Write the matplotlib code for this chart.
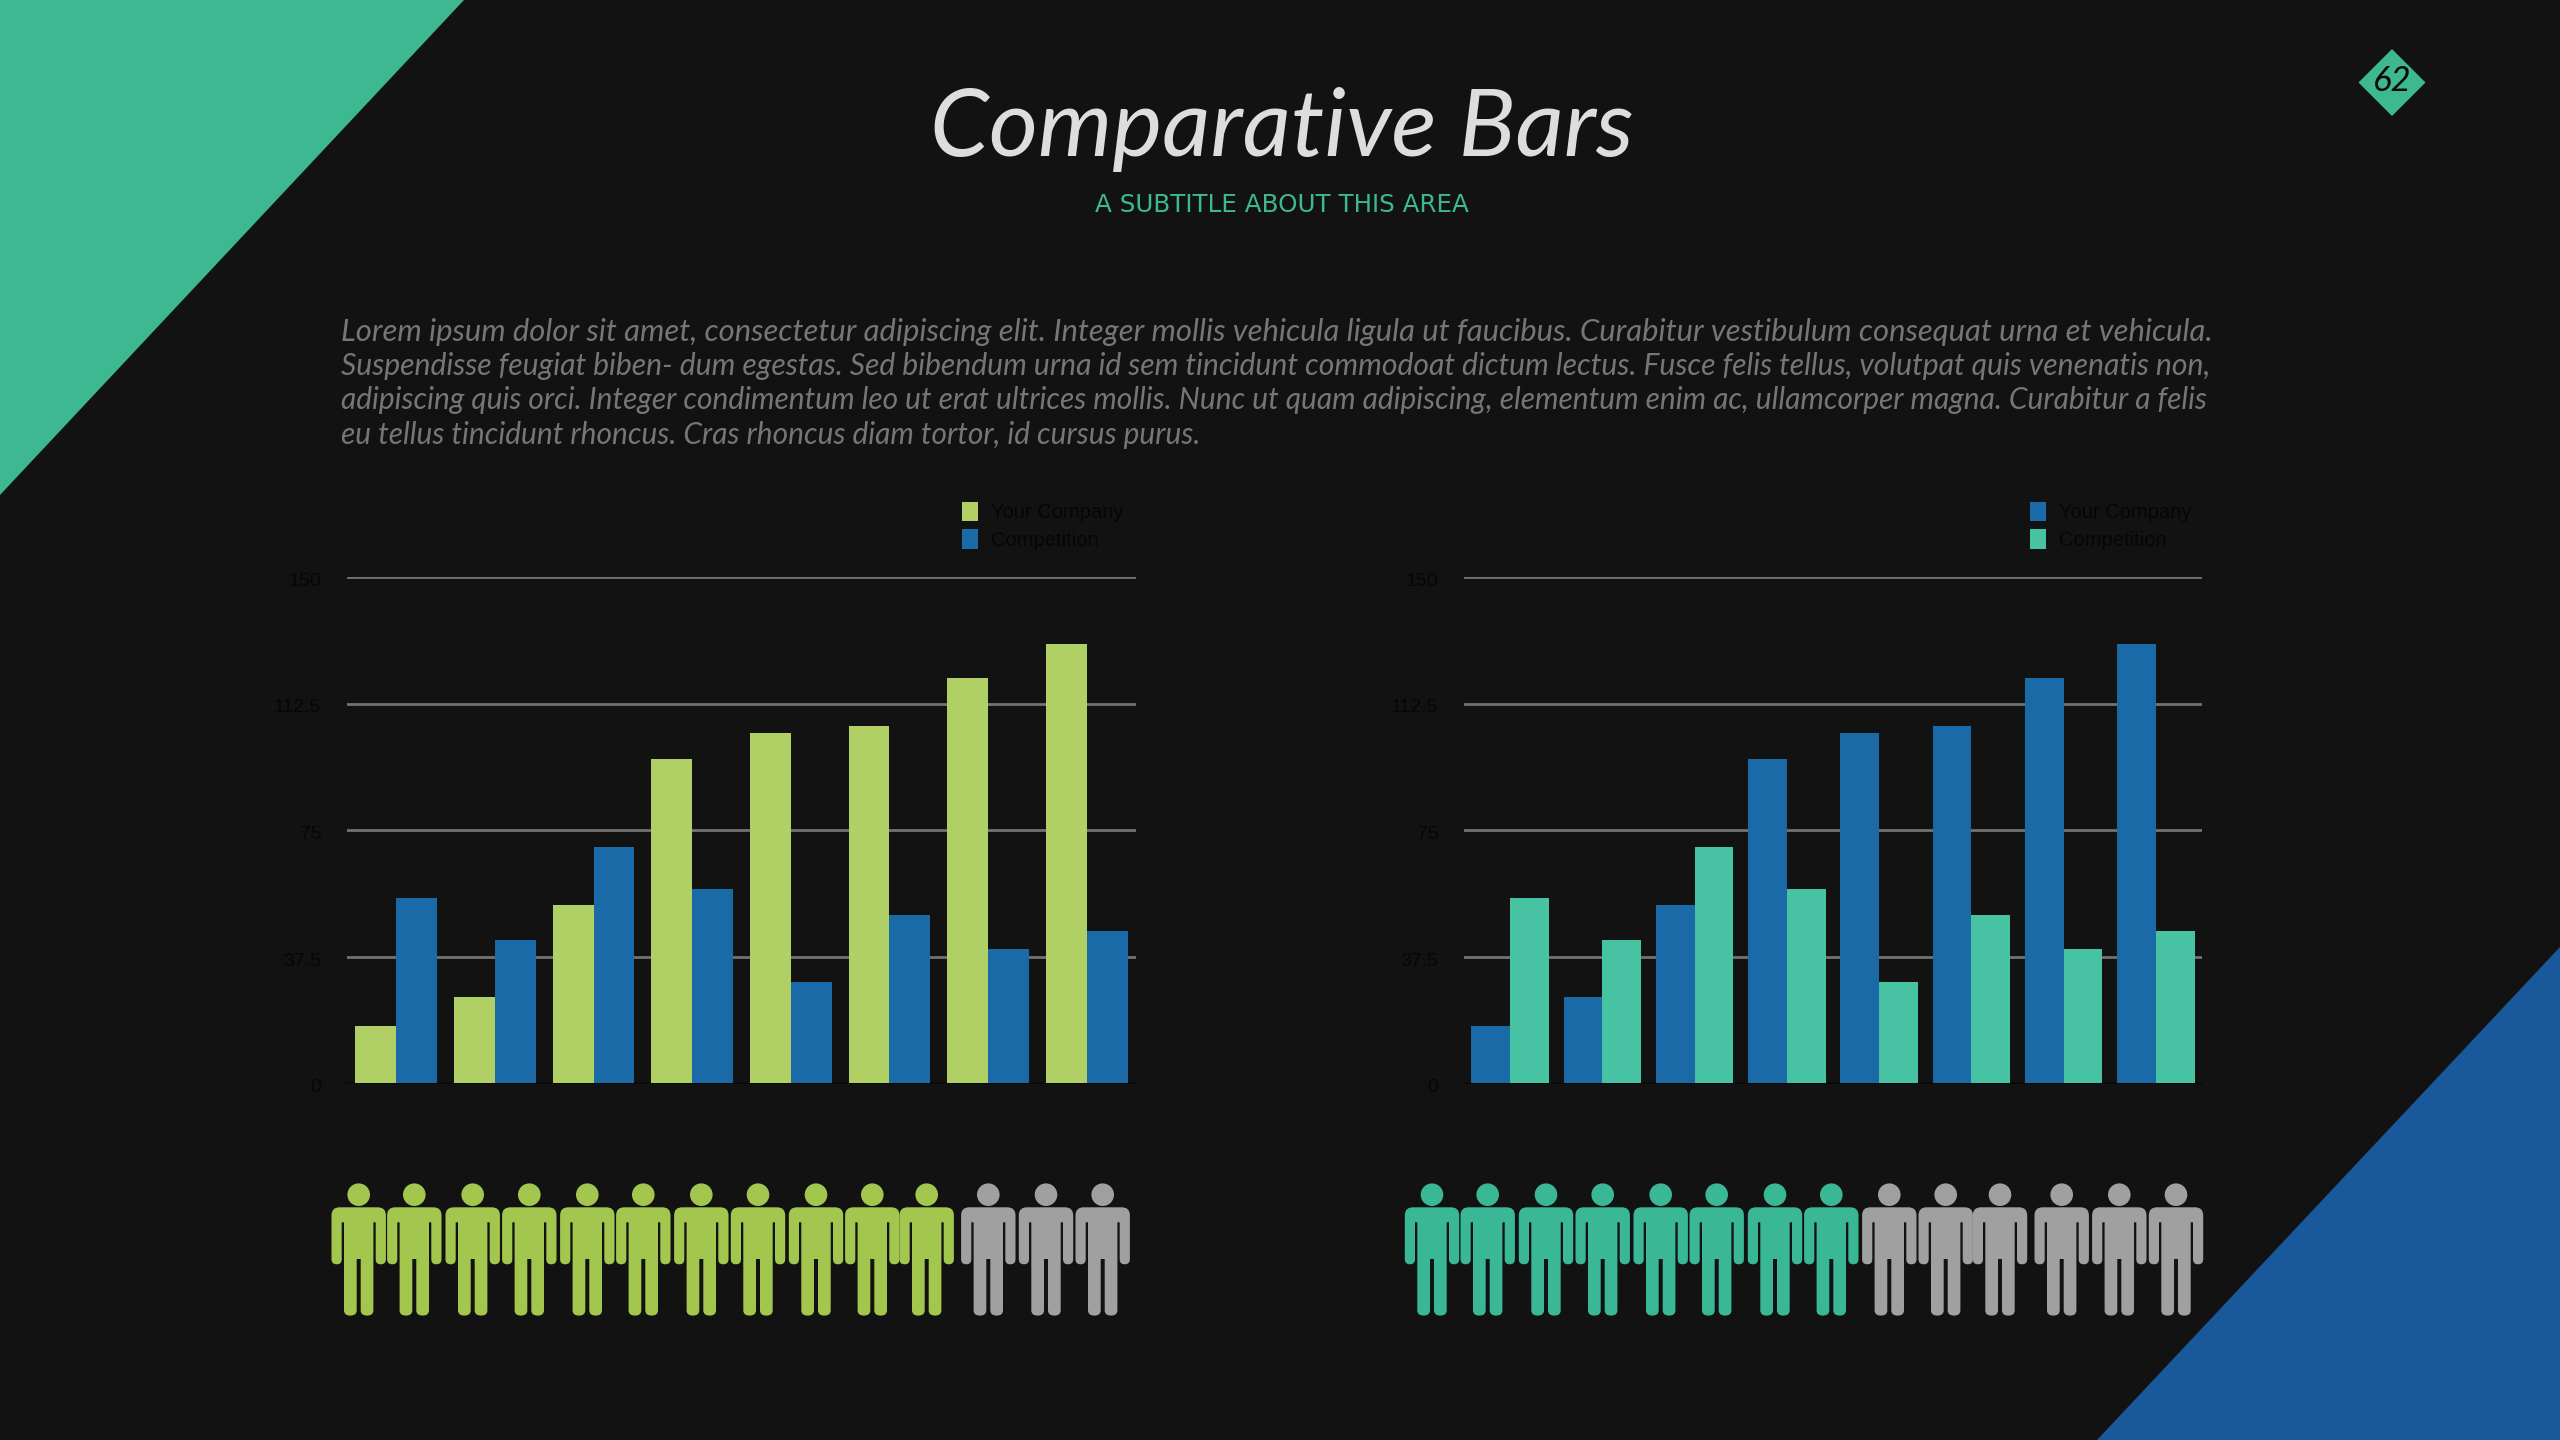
import numpy as np
import matplotlib
matplotlib.use('Agg')
import matplotlib.pyplot as plt
from matplotlib.patches import Circle, Polygon, PathPatch
from matplotlib.path import Path
from matplotlib.transforms import ScaledTranslation

W, H = 2560, 1440
BG = '#121212'

months = np.arange(8)
your_company = [16.8, 25.5, 52.9, 96, 103.9, 105.8, 120, 130]
competition = [54.8, 42.5, 69.9, 57.6, 30, 49.7, 39.8, 45]
y_ticks = [0, 37.5, 75, 112.5, 150]
y_labels = ['0', '37.5', '75', '112.5', '150']
series_names = ['Your Company', 'Competition']

people_total = 14
people_left = 11
people_right = 8

title = 'Comparative Bars'
subtitle = 'A SUBTITLE ABOUT THIS AREA'
body_lines = [
    'Lorem ipsum dolor sit amet, consectetur adipiscing elit. Integer mollis vehicula ligula ut faucibus. Curabitur vestibulum consequat urna et vehicula.',
    'Suspendisse feugiat biben- dum egestas. Sed bibendum urna id sem tincidunt commodoat dictum lectus. Fusce felis tellus, volutpat quis venenatis non,',
    'adipiscing quis orci. Integer condimentum leo ut erat ultrices mollis. Nunc ut quam adipiscing, elementum enim ac, ullamcorper magna. Curabitur a felis',
    'eu tellus tincidunt rhoncus. Cras rhoncus diam tortor, id cursus purus.',
]
body_ends = [2211, 2212, 2205, 1199]
body_y = [332, 366, 400, 435]

LIME = '#b0cf65'
BLUE = '#1b6aa8'
TEAL = '#47c2a3'

# the icons are not evenly spaced in the original, small nudges per slot
nudge_left = [0, -1.4, 0, -0.4, 0.6, -0.4, 0.6, 0.3, 1.3, 0.6, -2, 2.6, 3.3, 3]
nudge_right = [0, -1.3, 0, -0.3, 0.7, -0.3, 1, 0.3, 1.3, 0.7, -2, 2.7, 3.3, 3]

fig = plt.figure(figsize=(W / 100, H / 100), dpi=100, facecolor=BG)
bg = fig.add_axes([0, 0, 1, 1])
bg.set_xlim(0, W)
bg.set_ylim(H, 0)
bg.axis('off')

bg.add_patch(Polygon([(0, 0), (464, 0), (0, 495)], fc='#3db891', ec='none'))
bg.add_patch(Polygon([(W, 947), (W, H), (2097, H)], fc='#19589a', ec='none'))
bg.add_patch(Polygon([(2392, 49), (2425.5, 82.5), (2392, 116), (2358.5, 82.5)], fc='#3db891', ec='none'))


def fit_text(x, y, s, width, size, **kw):
    # scale font so the text is as wide as the reference line
    t = bg.text(x, y, s, fontsize=size, **kw)
    w = t.get_window_extent(fig.canvas.get_renderer()).width
    t.set_fontsize(size * width / w)
    return t


fit_text(1282, 130, title, 704, 60, family='Lato', style='italic', color='#dddddd', ha='center', va='center')
fit_text(1282, 204.5, subtitle, 376, 18, family='DejaVu Sans', color='#3db891', ha='center', va='center')
for line, end, y in zip(body_lines, body_ends, body_y):
    fit_text(341, y, line, end - 341, 20, family='Lato', style='italic', color='#767676', ha='left', va='center')
bg.text(2392, 81, '62', fontsize=25, family='Lato', style='italic', color='#0a0a0a', ha='center', va='center')


def person_path(cx, top):
    # right half of the body, mirrored for the left half
    v = [(0, 0), (19, 0), (27.2, 0), (27.2, 8), (27.2, 52), (27.2, 57), (22, 57), (17, 57), (17, 52),
         (17, 15), (14.7, 15), (14.7, 103), (14.7, 108.3), (8.4, 108.3), (2, 108.3), (2, 103), (2, 51.7), (0, 51.7)]
    c = [Path.MOVETO, Path.LINETO, Path.CURVE3, Path.CURVE3, Path.LINETO, Path.CURVE3, Path.CURVE3, Path.CURVE3, Path.CURVE3,
         Path.LINETO, Path.LINETO, Path.LINETO, Path.CURVE3, Path.CURVE3, Path.CURVE3, Path.CURVE3, Path.LINETO, Path.LINETO]
    mv = [(-x, y) for x, y in v[::-1]][1:]
    mc = c[:0:-1]
    verts = [(cx + x, top + y) for x, y in v + mv]
    return Path(verts, c + mc)


def draw_people(first_x, step, n_on, color, nudge):
    for i in range(people_total):
        cx = first_x + step * i + nudge[i]
        col = color if i < n_on else '#a0a0a0'
        bg.add_patch(Circle((cx, 1194.7), 11.3, fc=col, ec='none'))
        bg.add_patch(PathPatch(person_path(cx, 1207.3), fc=col, ec='none'))


draw_people(358.7, 57, people_left, '#a3c64e', nudge_left)
draw_people(1432, 57, people_right, '#3ab795', nudge_right)


def bar_chart(x0, x1, c1, c2, width, legend_x):
    ax = fig.add_axes([x0 / W, 1 - 1083 / H, (x1 - x0) / W, (1083 - 577) / H])
    ax.patch.set_alpha(0)
    ax.bar(months - width / 2, your_company, width, color=c1, label=series_names[0], zorder=3)
    ax.bar(months + width / 2, competition, width, color=c2, label=series_names[1], zorder=3)
    ax.set_xlim(-0.5, 7.5)
    ax.set_ylim(0, 150)
    ax.set_yticks(y_ticks)
    ax.set_yticklabels(y_labels, family='Liberation Sans', fontsize=14, color='#060606')
    ax.set_xticks([])
    ax.tick_params(axis='y', length=0, pad=18.5)
    # labels sit a little under their grid line
    for lab in ax.get_yticklabels():
        lab.set_transform(lab.get_transform() + ScaledTranslation(0, -2.5 / 100, fig.dpi_scale_trans))
    ax.grid(axis='y', color='#727272', lw=2.0, zorder=1)
    ax.set_axisbelow(True)
    for side in ['top', 'right', 'left']:
        ax.spines[side].set_visible(False)
    ax.spines['bottom'].set_color('#0a0a0a')
    ax.spines['bottom'].set_linewidth(1.4)
    leg = ax.legend(loc='upper left', bbox_to_anchor=(legend_x / W, 1 - 497.5 / H), bbox_transform=fig.transFigure,
                    frameon=False, prop={'family': 'Liberation Sans', 'size': 14.5},
                    handlelength=0.8, handleheight=1.1, handletextpad=0.66, labelspacing=0.36,
                    borderpad=0.2, borderaxespad=0)
    for t in leg.get_texts():
        t.set_color('#060606')
    return ax


bar_chart(347, 1136, LIME, BLUE, 0.415, 958)
bar_chart(1464, 2202, BLUE, TEAL, 0.42, 2026)

fig.savefig('out.png', dpi=100, facecolor=BG)
